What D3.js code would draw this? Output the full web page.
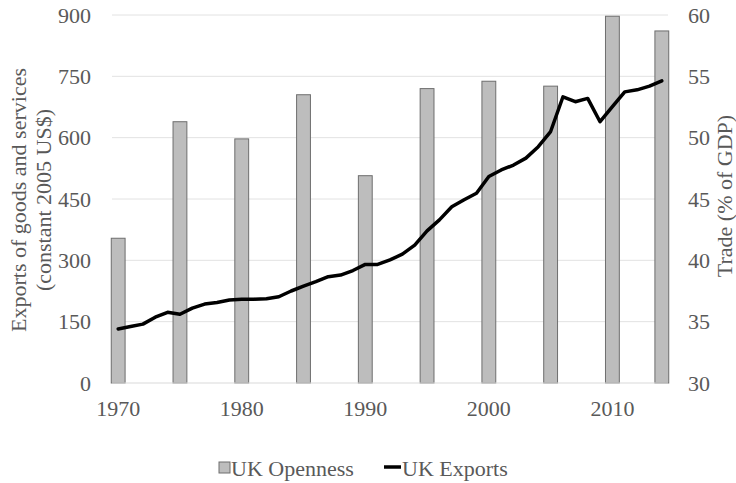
<!DOCTYPE html>
<html>
<head>
<meta charset="utf-8">
<script src="https://cdn.jsdelivr.net/npm/d3@7"></script>
<style>
  body { margin: 0; background: #fff; }
  svg text { font-family: "Liberation Serif", "Times New Roman", serif; fill: #595959; }
</style>
</head>
<body>
<div id="chart"></div>
<script>
// years on the category axis
var years = d3.range(1970, 2015);

// UK Exports, constant 2005 US$ (left axis)
var exports = [132, 138, 144, 161, 173, 168, 183, 193, 197, 203,
               205, 205, 206, 211, 225, 237, 248, 260, 264, 275,
               290, 290, 301, 315, 337, 372, 399, 431, 448, 464,
               505, 521, 533, 550, 578, 615, 700, 688, 696, 639,
               676, 712, 717, 726, 739];

// UK Openness, trade % of GDP (right axis), only some years
var open_years = [1970, 1975, 1980, 1985, 1990, 1995, 2000, 2005, 2010, 2014];
var openness = [41.8, 51.3, 49.9, 53.5, 46.9, 54.0, 54.6, 54.2, 59.9, 58.7];

var left_ticks = [0, 150, 300, 450, 600, 750, 900];
var right_ticks = [30, 35, 40, 45, 50, 55, 60];
var x_labels = [1970, 1980, 1990, 2000, 2010];

var width = 736, height = 483;
var margin = {top: 15, right: 68, bottom: 100, left: 112};

var svg = d3.select("#chart").append("svg")
    .attr("width", width)
    .attr("height", height);

var x = d3.scaleBand()
    .domain(years)
    .range([margin.left, width - margin.right]);

var yL = d3.scaleLinear()
    .domain([0, 900])
    .range([height - margin.bottom, margin.top]);

var yR = d3.scaleLinear()
    .domain([30, 60])
    .range([height - margin.bottom, margin.top]);

// gridlines
svg.append("g")
    .selectAll("line")
    .data(left_ticks.slice(1))
    .enter().append("line")
    .attr("x1", margin.left)
    .attr("x2", width - margin.right)
    .attr("y1", function(d){ return yL(d); })
    .attr("y2", function(d){ return yL(d); })
    .attr("stroke", "#e2e2e2")
    .attr("stroke-width", 1);

// bars
var bw = x.bandwidth() * 1.12;
svg.append("g")
    .selectAll("rect")
    .data(openness)
    .enter().append("rect")
    .attr("x", function(d, i){ return x(open_years[i]) + x.bandwidth() / 2 - bw / 2; })
    .attr("y", function(d){ return yR(d); })
    .attr("width", bw)
    .attr("height", function(d){ return yR(30) - yR(d); })
    .attr("fill", "#bdbdbd")
    .attr("stroke", "#6e6e6e")
    .attr("stroke-width", 1);

// baseline
svg.append("line")
    .attr("x1", margin.left)
    .attr("x2", width - margin.right)
    .attr("y1", yL(0))
    .attr("y2", yL(0))
    .attr("stroke", "#d9d9d9")
    .attr("stroke-width", 1);

// exports line
var line = d3.line()
    .x(function(d, i){ return x(years[i]) + x.bandwidth() / 2; })
    .y(function(d){ return yL(d); });

svg.append("path")
    .datum(exports)
    .attr("d", line)
    .attr("fill", "none")
    .attr("stroke", "#000")
    .attr("stroke-width", 3.5)
    .attr("stroke-linejoin", "round")
    .attr("stroke-linecap", "round");

// left axis labels
svg.append("g")
    .selectAll("text")
    .data(left_ticks)
    .enter().append("text")
    .attr("x", margin.left - 21)
    .attr("y", function(d){ return yL(d); })
    .attr("dy", "0.35em")
    .attr("text-anchor", "end")
    .style("font-size", "22px")
    .text(function(d){ return d; });

// right axis labels
svg.append("g")
    .selectAll("text")
    .data(right_ticks)
    .enter().append("text")
    .attr("x", width - margin.right + 20)
    .attr("y", function(d){ return yR(d); })
    .attr("dy", "0.35em")
    .attr("text-anchor", "start")
    .style("font-size", "22px")
    .text(function(d){ return d; });

// x labels
svg.append("g")
    .selectAll("text")
    .data(x_labels)
    .enter().append("text")
    .attr("x", function(d){ return x(d) + x.bandwidth() / 2; })
    .attr("y", yL(0) + 33)
    .attr("text-anchor", "middle")
    .style("font-size", "22px")
    .text(function(d){ return d; });

// axis titles
var lt = svg.append("text")
    .attr("transform", "translate(18,200) rotate(-90)")
    .attr("text-anchor", "middle")
    .attr("dominant-baseline", "central")
    .style("font-size", "22px");
lt.append("tspan").attr("x", 0).attr("dy", 0).text("Exports of goods and services");
lt.append("tspan").attr("x", 0).attr("dy", 25).text("(constant 2005 US$)");

svg.append("text")
    .attr("transform", "translate(724,196) rotate(-90)")
    .attr("text-anchor", "middle")
    .attr("dominant-baseline", "central")
    .style("font-size", "22px")
    .text("Trade (% of GDP)");

// legend
var lg = svg.append("g");
lg.append("rect")
    .attr("x", 219).attr("y", 462)
    .attr("width", 11).attr("height", 11)
    .attr("fill", "#bdbdbd")
    .attr("stroke", "#6e6e6e");
lg.append("text")
    .attr("x", 231).attr("y", 468)
    .attr("dy", "0.35em")
    .style("font-size", "22px")
    .text("UK Openness");
lg.append("line")
    .attr("x1", 384).attr("x2", 401)
    .attr("y1", 467).attr("y2", 467)
    .attr("stroke", "#000")
    .attr("stroke-width", 3.5);
lg.append("text")
    .attr("x", 402).attr("y", 468)
    .attr("dy", "0.35em")
    .style("font-size", "22px")
    .text("UK Exports");
</script>
</body>
</html>
